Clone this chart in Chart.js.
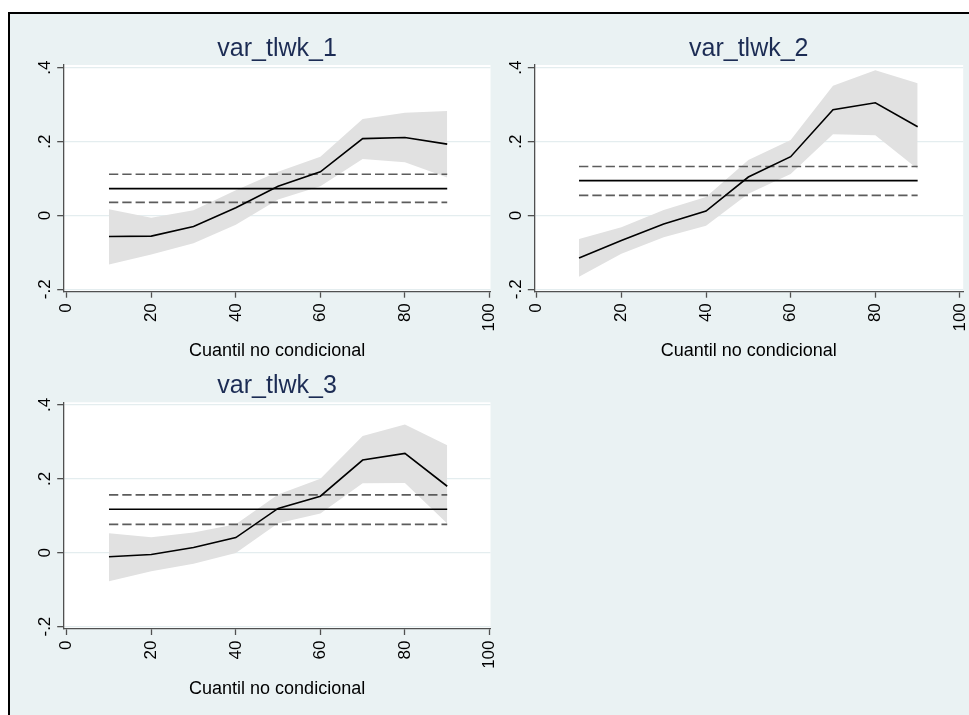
<!DOCTYPE html>
<html>
<head>
<meta charset="utf-8">
<script src="https://cdn.jsdelivr.net/npm/chart.js@4.4.1/dist/chart.umd.min.js"></script>
<style>
  html, body { margin: 0; padding: 0; width: 969px; height: 715px; overflow: hidden; background: #ffffff; }
  #frame { position: absolute; left: 8px; top: 12px; width: 980px; height: 720px;
           border-left: 2px solid #000; border-top: 2px solid #000; background: #eaf2f3; }
  canvas { position: absolute; }
</style>
</head>
<body>
<div id="frame"></div>
<canvas id="c1"></canvas>
<canvas id="c2"></canvas>
<canvas id="c3"></canvas>
<script>
// Unconditional quantile estimates with confidence bands, plus the OLS
// estimate (solid) and its confidence interval (dashed) for each variable.
const quantiles = [10, 20, 30, 40, 50, 60, 70, 80, 90];
const panelTitles = ['var_tlwk_1', 'var_tlwk_2', 'var_tlwk_3'];
const xAxisTitle = 'Cuantil no condicional';

const est1   = [-0.057, -0.056, -0.030, 0.021, 0.079, 0.118, 0.208, 0.211, 0.193];
const upper1 = [ 0.017, -0.006,  0.014, 0.068, 0.118, 0.159, 0.261, 0.278, 0.283];
const lower1 = [-0.133, -0.106, -0.075, -0.025, 0.043, 0.079, 0.153, 0.144, 0.103];

const est2   = [-0.115, -0.068, -0.023, 0.012, 0.104, 0.159, 0.286, 0.305, 0.240];
const upper2 = [-0.064, -0.032,  0.015, 0.050, 0.150, 0.204, 0.351, 0.393, 0.358];
const lower2 = [-0.166, -0.104, -0.059, -0.028, 0.059, 0.112, 0.220, 0.217, 0.126];

const est3   = [-0.011, -0.005,  0.014, 0.041, 0.120, 0.153, 0.251, 0.269, 0.180];
const upper3 = [ 0.053,  0.042,  0.055, 0.077, 0.158, 0.200, 0.316, 0.347, 0.291];
const lower3 = [-0.077, -0.050, -0.030, -0.001, 0.080, 0.106, 0.188, 0.189, 0.079];

const olsEst   = [0.0726, 0.0943, 0.1177];
const olsUpper = [0.1116, 0.1325, 0.1566];
const olsLower = [0.0354, 0.0544, 0.0769];

const xTicks = [0, 20, 40, 60, 80, 100];
const yTicks = [-0.2, 0, 0.2, 0.4];
const yTickLabels = ['-.2', '0', '.2', '.4'];

const FONT = '"Liberation Sans", Arial, Helvetica, sans-serif';
Chart.defaults.font.family = FONT;

const AXIS_COLOR = '#505050';
const GRID_COLOR = '#e4edef';
const BAND_COLOR = '#e1e1e1';
const DASH_COLOR = '#5c5c5c';
const TITLE_COLOR = '#1c2c54';
const TITLE_SIZE = 25;
const AXIS_TITLE_SIZE = 18;
const TICK_SIZE = 17;

// white plot region
const plotBackground = {
  id: 'plotBackground',
  beforeDraw(chart) {
    const a = chart.chartArea, ctx = chart.ctx;
    ctx.save();
    ctx.fillStyle = '#ffffff';
    ctx.fillRect(a.left, a.top, a.right - a.left, a.bottom - a.top);
    ctx.restore();
  }
};

// vertical y tick labels, reading upwards, to the left of the axis
const yTickText = {
  id: 'yTickText',
  afterDraw(chart) {
    const s = chart.scales.y, ctx = chart.ctx;
    ctx.save();
    ctx.fillStyle = '#000';
    ctx.font = TICK_SIZE + 'px ' + FONT;
    ctx.textAlign = 'center';
    ctx.textBaseline = 'alphabetic';
    yTicks.forEach((v, i) => {
      ctx.save();
      ctx.translate(chart.chartArea.left - 13.7, s.getPixelForValue(v));
      ctx.rotate(-Math.PI / 2);
      ctx.fillText(yTickLabels[i], 0, 0);
      ctx.restore();
    });
    ctx.restore();
  }
};

function points(values) {
  return quantiles.map((q, i) => ({ x: q, y: values[i] }));
}
function flat(v) {
  return [{ x: quantiles[0], y: v }, { x: quantiles[quantiles.length - 1], y: v }];
}

function makePanel(p) {
  const cv = document.getElementById(p.id);
  cv.width = p.cw; cv.height = p.ch;
  cv.style.left = p.cl + 'px'; cv.style.top = p.ct + 'px';
  cv.style.width = p.cw + 'px'; cv.style.height = p.ch + 'px';

  const yWidth = p.area.left - p.cl;
  const padRight = p.cl + p.cw - p.area.right;
  const topH = p.area.top - p.ct;
  const bottomH = p.ct + p.ch - p.area.bottom;
  const titlePadTop = (p.titleBase - p.ct - 0.3465 * TITLE_SIZE) - TITLE_SIZE * 0.6;
  const axisTitlePadBottom = (p.ct + p.ch) - (p.axisTitleBase - 0.3465 * AXIS_TITLE_SIZE) - AXIS_TITLE_SIZE * 0.6;

  const line = { pointRadius: 0, pointHoverRadius: 0, tension: 0, fill: false };

  new Chart(cv, {
    type: 'line',
    data: {
      datasets: [
        Object.assign({ label: 'est', data: points(p.est), borderColor: '#000', borderWidth: 1.6, order: 1 }, line),
        Object.assign({ label: 'ols', data: flat(p.ols), borderColor: '#000', borderWidth: 1.6, order: 2 }, line),
        Object.assign({ label: 'olsHi', data: flat(p.olsHi), borderColor: DASH_COLOR, borderWidth: 1.6, borderDash: [9.3, 4], order: 2 }, line),
        Object.assign({ label: 'olsLo', data: flat(p.olsLo), borderColor: DASH_COLOR, borderWidth: 1.6, borderDash: [9.3, 4], order: 2 }, line),
        Object.assign({ label: 'lo', data: points(p.lo), borderColor: 'transparent', borderWidth: 0, order: 4 }, line),
        Object.assign({}, line, { label: 'hi', data: points(p.hi), borderColor: 'transparent', borderWidth: 0,
          fill: { target: 4 }, backgroundColor: BAND_COLOR, order: 3 })
      ]
    },
    options: {
      responsive: false,
      animation: false,
      events: [],
      layout: { padding: { left: 0, top: 0, right: padRight, bottom: 0 } },
      plugins: { legend: { display: false }, tooltip: { enabled: false }, title: { display: false } },
      scales: {
        x: {
          type: 'linear', position: 'bottom', min: p.xmin, max: p.xmax,
          afterBuildTicks: s => { s.ticks = xTicks.map(v => ({ value: v })); },
          afterFit: s => { s.height = bottomH; s.paddingLeft = 0; s.paddingRight = 0; },
          ticks: { autoSkip: false, minRotation: 90, maxRotation: 90, padding: 5.5, color: '#000',
                   font: { size: TICK_SIZE }, callback: v => String(v) },
          grid: { drawOnChartArea: false, drawTicks: true, tickLength: 6, tickColor: AXIS_COLOR, tickWidth: 1.3 },
          border: { display: true, color: AXIS_COLOR, width: 1.3 },
          title: { display: true, text: xAxisTitle, color: '#000', font: { size: AXIS_TITLE_SIZE, lineHeight: 1.2 },
                   padding: { top: 0, bottom: axisTitlePadBottom } }
        },
        y: {
          type: 'linear', position: 'left', min: p.ymin, max: p.ymax,
          afterBuildTicks: s => { s.ticks = yTicks.map(v => ({ value: v })); },
          afterFit: s => { s.width = yWidth; s.paddingTop = 0; s.paddingBottom = 0; },
          ticks: { display: false },
          grid: { color: GRID_COLOR, lineWidth: 1.3, drawTicks: true, tickLength: 6.5, tickColor: AXIS_COLOR, tickWidth: 1.3 },
          border: { display: true, color: AXIS_COLOR, width: 1.3 }
        },
        panelTitle: {
          type: 'linear', axis: 'x', position: 'top', min: 0, max: 1,
          afterFit: s => { s.height = topH; s.paddingLeft = 0; s.paddingRight = 0; },
          ticks: { display: false },
          grid: { display: false, drawTicks: false },
          border: { display: false },
          title: { display: true, text: p.title, color: TITLE_COLOR, font: { size: TITLE_SIZE, lineHeight: 1.2 },
                   padding: { top: titlePadTop, bottom: 0 } }
        }
      }
    },
    plugins: [plotBackground, yTickText]
  });
}

const Y_MIN = -0.2065, Y_MAX = 0.4073;

makePanel({ id: 'c1', cl: 9, ct: 14, cw: 492, ch: 356,
  area: { left: 63.7, top: 65, right: 490.5, bottom: 291.7 },
  titleBase: 57.3, axisTitleBase: 357,
  xmin: -0.71, xmax: 100.24, ymin: Y_MIN, ymax: Y_MAX,
  title: panelTitles[0], est: est1, hi: upper1, lo: lower1,
  ols: olsEst[0], olsHi: olsUpper[0], olsLo: olsLower[0] });

makePanel({ id: 'c2', cl: 480, ct: 14, cw: 489, ch: 356,
  area: { left: 534.3, top: 65, right: 963.2, bottom: 291.7 },
  titleBase: 57.3, axisTitleBase: 357,
  xmin: -0.567, xmax: 100.76, ymin: Y_MIN, ymax: Y_MAX,
  title: panelTitles[1], est: est2, hi: upper2, lo: lower2,
  ols: olsEst[1], olsHi: olsUpper[1], olsLo: olsLower[1] });

makePanel({ id: 'c3', cl: 9, ct: 351, cw: 492, ch: 357,
  area: { left: 63.7, top: 402.3, right: 490.5, bottom: 629 },
  titleBase: 395, axisTitleBase: 695,
  xmin: -0.71, xmax: 100.24, ymin: Y_MIN, ymax: Y_MAX,
  title: panelTitles[2], est: est3, hi: upper3, lo: lower3,
  ols: olsEst[2], olsHi: olsUpper[2], olsLo: olsLower[2] });
</script>
</body>
</html>
